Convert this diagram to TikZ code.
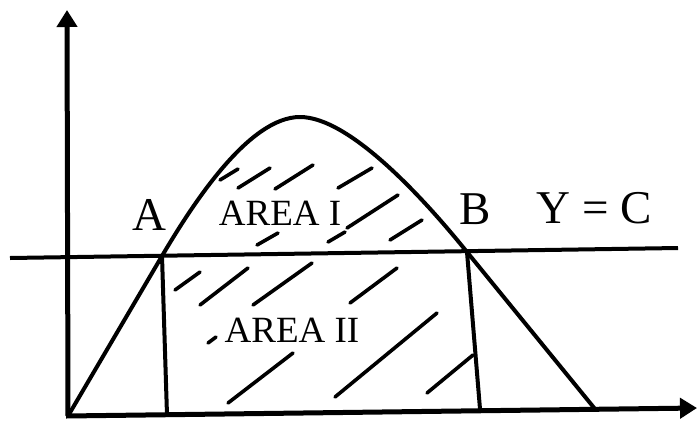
\documentclass[tikz,border=0pt]{standalone}
\usepackage{fontspec}
\setmainfont{Liberation Serif}
\usetikzlibrary{arrows.meta}
\begin{document}
\begin{tikzpicture}[x=1pt,y=-1pt,
  axis/.style={line width=5pt,-{Triangle[length=17pt,width=20pt]}},
  curve/.style={line width=4pt,line join=round},
  hatch/.style={line width=3.6pt,line cap=round},
  biglabel/.style={font=\fontsize{47}{50}\selectfont,inner sep=0pt},
  arealabel/.style={font=\fontsize{37}{40}\selectfont,inner sep=0pt}]
\useasboundingbox (0,0) rectangle (698,421);
% points
\coordinate (O) at (68,416);
\coordinate (ytip) at (67,10);
\coordinate (xtip) at (697,408);
\coordinate (cl) at (10,258);
\coordinate (cr) at (678,248);
\coordinate (A) at (162,256);
\coordinate (B) at (467,252);
\coordinate (P) at (300,117);
\coordinate (Af) at (167,415);
\coordinate (Bf) at (480,409);
\coordinate (E) at (595,409);
% axes
\draw[axis] (O) -- (ytip);
\draw[axis] (66,416) -- (xtip);
% line Y = C
\draw[curve] (cl) -- (cr);
% curve
\draw[curve] (O) -- (A) .. controls (195,200) and (250,117) .. (P)
  .. controls (350,117) and (425,200) .. (B) -- (E);
% verticals
\draw[curve] (A) -- (Af);
\draw[curve] (B) -- (Bf);
% hatching area I
\draw[hatch] (220,180) -- (238,169);
\draw[hatch] (238,188) -- (270,168);
\draw[hatch] (275,189) -- (313,165);
\draw[hatch] (338,188) -- (372,168);
\draw[hatch] (347,228) -- (398,195);
\draw[hatch] (328,242) -- (345,232);
\draw[hatch] (390,240) -- (422,220);
\draw[hatch] (257,245) -- (278,233);
% hatching area II
\draw[hatch] (175,290) -- (200,272);
\draw[hatch] (200,305) -- (248,268);
\draw[hatch] (253,305) -- (312,263);
\draw[hatch] (350,303) -- (397,268);
\draw[hatch] (208,343) -- (216,337);
\draw[hatch] (228,403) -- (293,353);
\draw[hatch] (335,397) -- (437,313);
\draw[hatch] (427,393) -- (473,355);
% labels
\node[biglabel] (lA) at (149,215) {A};
\node[biglabel] (lB) at (475,209) {B};
\node[biglabel] (lY) at (594,208) {Y = C};
\node[arealabel] (l1) at (280,213) {AREA I};
\node[arealabel] (l2) at (292,330) {AREA II};
\end{tikzpicture}
\end{document}
